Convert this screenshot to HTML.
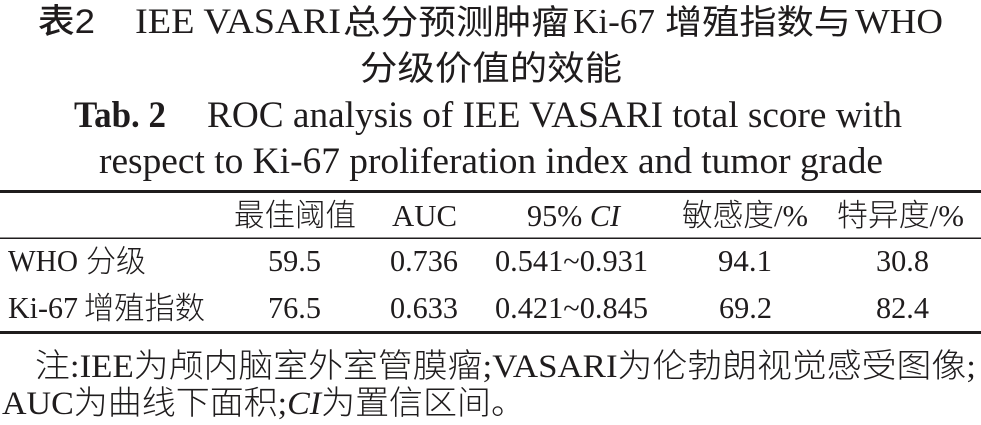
<!DOCTYPE html>
<html>
<head>
<meta charset="utf-8">
<style>
html,body{margin:0;padding:0;background:#fff;}
svg{display:block;}
text{fill:#1f1c1d;font-family:"Liberation Serif","Noto Sans CJK SC",serif;}
.cjk{font-family:"Liberation Serif","Noto Sans CJK SC",sans-serif;}
.lt{font-weight:300;}
</style>
</head>
<body>
<svg width="981" height="425" viewBox="0 0 981 425" xmlns="http://www.w3.org/2000/svg">
<rect x="0" y="0" width="981" height="425" fill="#fff"/>

<!-- Title line 1 -->
<text x="38" y="33" font-size="34" font-weight="500" textLength="57" lengthAdjust="spacingAndGlyphs" style="font-family:'Noto Sans CJK SC',sans-serif">表<tspan style="font-family:'Liberation Sans',sans-serif" font-weight="400">2</tspan></text>
<text x="135" y="33" font-size="36" textLength="206" lengthAdjust="spacingAndGlyphs">IEE VASARI</text>
<text x="343" y="34" font-size="34" textLength="226" lengthAdjust="spacingAndGlyphs" class="cjk">总分预测肿瘤</text>
<text x="573" y="33" font-size="35" textLength="82" lengthAdjust="spacingAndGlyphs">Ki-67</text>
<text x="665" y="34" font-size="34" textLength="186" lengthAdjust="spacingAndGlyphs" class="cjk">增殖指数与</text>
<text x="855" y="33" font-size="35" textLength="88" lengthAdjust="spacingAndGlyphs">WHO</text>

<!-- Title line 2 -->
<text x="360" y="80" font-size="34" textLength="262" lengthAdjust="spacingAndGlyphs" class="cjk">分级价值的效能</text>

<!-- English title -->
<text x="74" y="127" font-size="37" font-weight="bold" textLength="92" lengthAdjust="spacingAndGlyphs">Tab. 2</text>
<text x="207" y="127" font-size="37" textLength="695" lengthAdjust="spacingAndGlyphs">ROC analysis of IEE VASARI total score with</text>
<text x="99" y="173" font-size="37" textLength="784" lengthAdjust="spacingAndGlyphs">respect to Ki-67 proliferation index and tumor grade</text>

<!-- Rules -->
<rect x="0" y="190" width="981" height="3" fill="#1f1c1d"/>
<rect x="0" y="237.5" width="981" height="1.5" fill="#1f1c1d"/>
<rect x="0" y="331" width="981" height="3" fill="#1f1c1d"/>

<!-- Header -->
<text x="234" y="226" font-size="31" textLength="122" lengthAdjust="spacingAndGlyphs" class="cjk lt">最佳阈值</text>
<text x="392" y="226" font-size="31" textLength="65" lengthAdjust="spacingAndGlyphs">AUC</text>
<text x="527" y="226" font-size="31" textLength="93" lengthAdjust="spacingAndGlyphs">95% <tspan font-style="italic">CI</tspan></text>
<text x="682" y="226" font-size="31" textLength="126" lengthAdjust="spacingAndGlyphs" class="cjk lt">敏感度/%</text>
<text x="837" y="226" font-size="31" textLength="127" lengthAdjust="spacingAndGlyphs" class="cjk lt">特异度/%</text>

<!-- Row 1 -->
<text x="8" y="271" font-size="31" textLength="70" lengthAdjust="spacingAndGlyphs">WHO</text>
<text x="86" y="272" font-size="31" textLength="60" lengthAdjust="spacingAndGlyphs" class="cjk lt">分级</text>
<text x="268" y="271" font-size="31" textLength="53" lengthAdjust="spacingAndGlyphs">59.5</text>
<text x="390" y="271" font-size="31" textLength="68" lengthAdjust="spacingAndGlyphs">0.736</text>
<text x="495" y="271" font-size="31" textLength="153" lengthAdjust="spacingAndGlyphs">0.541~0.931</text>
<text x="718" y="271" font-size="31" textLength="54" lengthAdjust="spacingAndGlyphs">94.1</text>
<text x="876" y="271" font-size="31" textLength="53" lengthAdjust="spacingAndGlyphs">30.8</text>

<!-- Row 2 -->
<text x="8" y="318" font-size="31" textLength="70" lengthAdjust="spacingAndGlyphs">Ki-67</text>
<text x="84" y="319" font-size="31" textLength="121" lengthAdjust="spacingAndGlyphs" class="cjk lt">增殖指数</text>
<text x="268" y="318" font-size="31" textLength="53" lengthAdjust="spacingAndGlyphs">76.5</text>
<text x="390" y="318" font-size="31" textLength="68" lengthAdjust="spacingAndGlyphs">0.633</text>
<text x="495" y="318" font-size="31" textLength="153" lengthAdjust="spacingAndGlyphs">0.421~0.845</text>
<text x="719" y="318" font-size="31" textLength="53" lengthAdjust="spacingAndGlyphs">69.2</text>
<text x="876" y="318" font-size="31" textLength="53" lengthAdjust="spacingAndGlyphs">82.4</text>

<!-- Notes -->
<text x="35" y="377" font-size="33" textLength="941" lengthAdjust="spacingAndGlyphs" class="cjk lt">注:IEE为颅内脑室外室管膜瘤;VASARI为伦勃朗视觉感受图像;</text>
<text x="2" y="414" font-size="33" textLength="523" lengthAdjust="spacingAndGlyphs" class="cjk lt">AUC为曲线下面积;<tspan font-style="italic">CI</tspan>为置信区间。</text>
</svg>
</body>
</html>
